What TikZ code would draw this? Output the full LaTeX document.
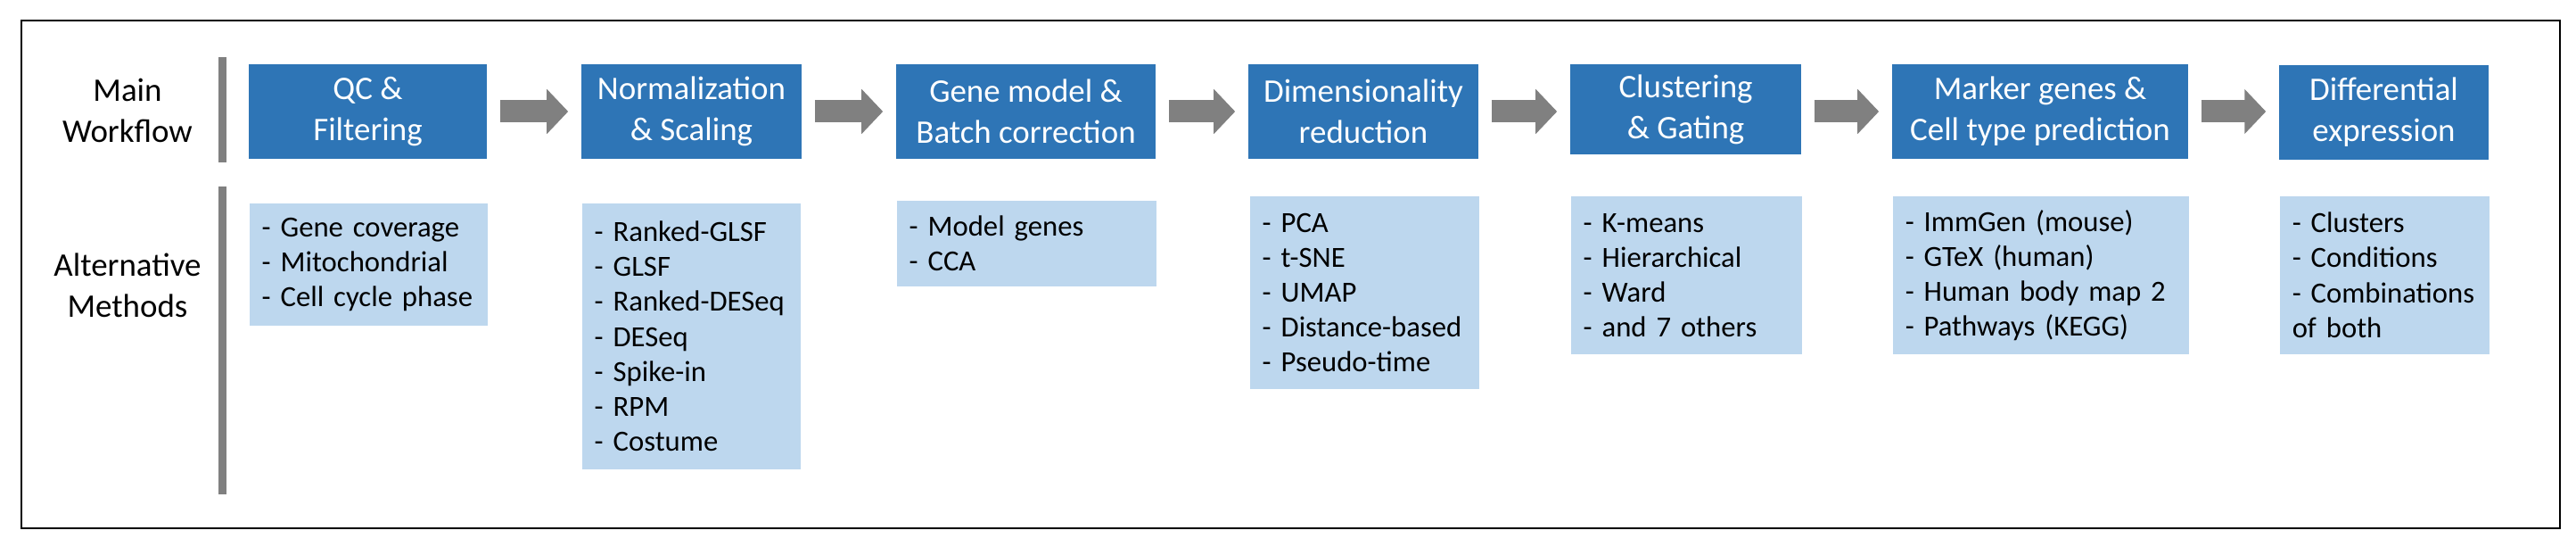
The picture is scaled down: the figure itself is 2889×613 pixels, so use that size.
\documentclass[tikz,border=0pt]{standalone}
\usepackage{fontspec}
\setmainfont{Carlito}
\usetikzlibrary{arrows.meta,positioning}

\definecolor{stepblue}{HTML}{2E75B6}
\definecolor{methodblue}{HTML}{BDD7EE}
\definecolor{arrowgray}{HTML}{808080}

\begin{document}
\begin{tikzpicture}[
    x=0.01cm, y=-0.01cm,
    stepbox/.style={rectangle, inner sep=0pt, fill=stepblue, text=white, align=center,
                minimum height=1.06cm, font=\fontsize{10.5}{13}\selectfont},
    methodbox/.style={rectangle, anchor=north west, fill=methodblue, align=left,
                inner xsep=0.14cm, inner ysep=0pt, font=\fontsize{9.3}{11.1}\selectfont},
    layerlabel/.style={align=center, font=\fontsize{10.5}{13}\selectfont},
    arrow/.style={line width=0.25cm, color=arrowgray, -{Triangle[length=0.24cm, width=0.49cm]},
                shorten <=0.14cm, shorten >=0.14cm},
    bar/.style={line width=0.09cm, color=arrowgray}
]
\useasboundingbox (0,0) rectangle (2889,613);

% Frame
\draw[line width=0.02cm] (24,23.5) rectangle (2871,592);

% Layer labels
\node[layerlabel] (mainlabel) at (143,124) {Main\\Workflow};
\node[layerlabel] (altlabel) at (143,320) {Alternative\\Methods};
\draw[bar] (249,64.5) -- (249,182.5);
\draw[bar] (249,209) -- (249,554);

% Main workflow
\node[stepbox, minimum width=2.67cm] (qc) at (412.5,125) {QC \&\\Filtering};
\node[stepbox, minimum width=2.47cm] (norm) at (775.5,125) {Normalization\\\& Scaling};
\node[stepbox, minimum width=2.91cm] (gene) at (1150.5,125) {Gene model \&\\Batch correction};
\node[stepbox, minimum width=2.58cm] (dimred) at (1529,125) {Dimensionality\\reduction};
\node[stepbox, minimum width=2.59cm, minimum height=1.01cm] (clust) at (1890.5,122.75) {Clustering\\\& Gating};
\node[stepbox, minimum width=3.32cm] (marker) at (2288,125) {Marker genes \&\\Cell type prediction};
\node[stepbox, minimum width=2.35cm] (diffexp) at (2673.5,126) {Differential\\expression};

% Alternative methods
\node[methodbox, text width=2.39cm, minimum height=1.37cm] (qcalt) at (279,227)
    {- Gene coverage\\- Mitochondrial\\- Cell cycle phase};
\node[methodbox, text width=2.17cm, minimum height=2.98cm] (normalt) at (652,227)
    {- Ranked-GLSF\\- GLSF\\- Ranked-DESeq\\- DESeq\\- Spike-in\\- RPM\\- Costume};
\node[methodbox, text width=2.63cm, minimum height=0.96cm] (genealt) at (1005,224)
    {- Model genes\\- CCA};
\node[methodbox, text width=2.29cm, minimum height=2.16cm] (dimredalt) at (1401,219)
    {- PCA\\- t-SNE\\- UMAP\\- Distance-based\\- Pseudo-time};
\node[methodbox, text width=2.31cm, minimum height=1.77cm] (clustalt) at (1761,219)
    {- K-means\\- Hierarchical\\- Ward\\- and 7 others};
\node[methodbox, text width=3.04cm, minimum height=1.77cm] (markeralt) at (2122,219)
    {- ImmGen (mouse)\\- GTeX (human)\\- Human body map 2\\- Pathways (KEGG)};
\node[methodbox, text width=2.07cm, minimum height=1.77cm] (diffexpalt) at (2556,219)
    {- Clusters\\- Conditions\\- Combinations\\of both};

% Workflow arrows
\draw[arrow] (qc) -- (norm);
\draw[arrow] (norm) -- (gene);
\draw[arrow] (gene) -- (dimred);
\draw[arrow] (dimred.east) -- (dimred.east -| clust.west);
\draw[arrow] (marker.west -| clust.east) -- (marker.west);
\draw[arrow] (marker.east) -- (marker.east -| diffexp.west);

\end{tikzpicture}
\end{document}
